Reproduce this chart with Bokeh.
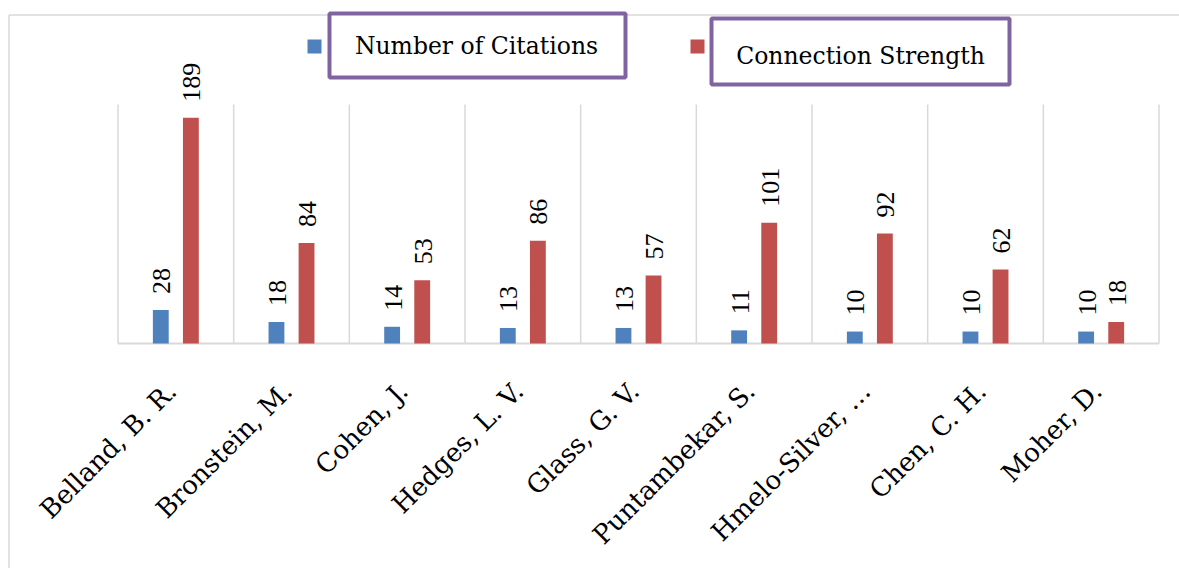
import math
from bokeh.plotting import figure
from bokeh.models import Range1d, ColumnDataSource
from bokeh.core.properties import value
from bokeh.embed import file_html
from bokeh.resources import INLINE

# ---- data ----
authors = ["Belland, B. R.", "Bronstein, M.", "Cohen, J.", "Hedges, L. V.",
           "Glass, G. V.", "Puntambekar, S.", "Hmelo-Silver, \u2026",
           "Chen, C. H.", "Moher, D."]
citations = [28, 18, 14, 13, 13, 11, 10, 10, 10]
strength = [189, 84, 53, 86, 57, 101, 92, 62, 18]
series_names = ["Number of Citations", "Connection Strength"]
axis_max = 200

BLUE = "#4F81BD"
RED = "#C0504D"
GRID = "#D9D9D9"
PURPLE = "#8064A2"

# ---- layout geometry (page pixels) ----
W, H = 1179, 568
PAGE_X0, PAGE_Y0 = 0, 0
AREA_L, AREA_R = 117.5, 1158.5
BASE_Y, TOP_Y = 343.0, 104.0
CW = (AREA_R - AREA_L) / len(authors)
PY = (BASE_Y - TOP_Y) / axis_max


def dx(px):
    return (px - AREA_L) / CW


def dy(py):
    return (BASE_Y - py) / PY


p = figure(width=W, height=H, output_backend="svg", toolbar_location=None,
           x_axis_location=None, y_axis_location=None,
           x_range=Range1d(dx(PAGE_X0), dx(PAGE_X0 + W)),
           y_range=Range1d(dy(PAGE_Y0 + H), dy(PAGE_Y0)),
           min_border=0, min_border_left=0, min_border_right=0,
           min_border_top=0, min_border_bottom=0)
p.outline_line_color = None
p.xgrid.visible = False
p.ygrid.visible = False
p.background_fill_color = "white"
p.border_fill_color = "white"

n = len(authors)
idx = list(range(n))

# outer chart border (top and left visible)
p.segment(x0=[dx(8.5), dx(8.5)], y0=[dy(14.5), dy(14.5)],
          x1=[dx(1179), dx(8.5)], y1=[dy(14.5), dy(568)],
          line_color=GRID, line_width=1.5)

# vertical category separators
p.segment(x0=list(range(n + 1)), y0=[0] * (n + 1),
          x1=list(range(n + 1)), y1=[axis_max] * (n + 1),
          line_color=GRID, line_width=1.5)
# baseline
p.segment(x0=[0], y0=[0], x1=[n], y1=[0], line_color=GRID, line_width=2)

off = 0.13
bw = 0.137
src = ColumnDataSource(dict(
    xb=[i + 0.5 - off for i in idx],
    xr=[i + 0.5 + off for i in idx],
    xc=[i + 0.5 for i in idx],
    cit=citations, st=strength,
    cit_t=[str(v) for v in citations],
    st_t=[str(v) for v in strength],
    names=authors,
    zero=[0] * n,
))

p.vbar(x="xb", top="cit", bottom=0, width=bw, source=src,
       fill_color=BLUE, line_color=None)
p.vbar(x="xr", top="st", bottom=0, width=bw, source=src,
       fill_color=RED, line_color=None)

# data labels
for xcol, ycol, tcol in (("xb", "cit", "cit_t"), ("xr", "st", "st_t")):
    p.text(x=xcol, y=ycol, text=tcol, source=src, angle=math.pi / 2,
           text_align="left", text_baseline="middle",
           x_offset=1, y_offset=-16,
           text_font=value("Liberation Serif"), text_font_size="26px",
           text_color="black")

# category labels
p.text(x="xc", y="zero", text="names", source=src, angle=math.pi / 4,
       text_align="right", text_baseline="alphabetic",
       x_offset=-4, y_offset=43,
       text_font=value("DejaVu Serif"), text_font_size="26px",
       text_color="black")

# legend
leg = ColumnDataSource(dict(
    sx=[dx(314), dx(697)], sy=[dy(46), dy(46)],
    bx=[dx(477), dx(860)], by=[dy(45), dy(51)],
    bwid=[296, 298], bhei=[64, 66],
    tx=[dx(476), dx(860)], ty=[dy(45), dy(55)],
    label=series_names, col=[BLUE, RED],
))
p.rect(x="sx", y="sy", width=14, height=14, width_units="screen",
       height_units="screen", fill_color="col", line_color=None, source=leg)
p.rect(x="bx", y="by", width="bwid", height="bhei", width_units="screen",
       height_units="screen", fill_color="white", line_color=PURPLE,
       line_width=4, source=leg)
p.text(x="tx", y="ty", text="label", source=leg, text_align="center",
       text_baseline="middle", text_font=value("DejaVu Serif"),
       text_font_size="23.5px", text_color="black")

open("out.html", "w").write(file_html(p, INLINE))
